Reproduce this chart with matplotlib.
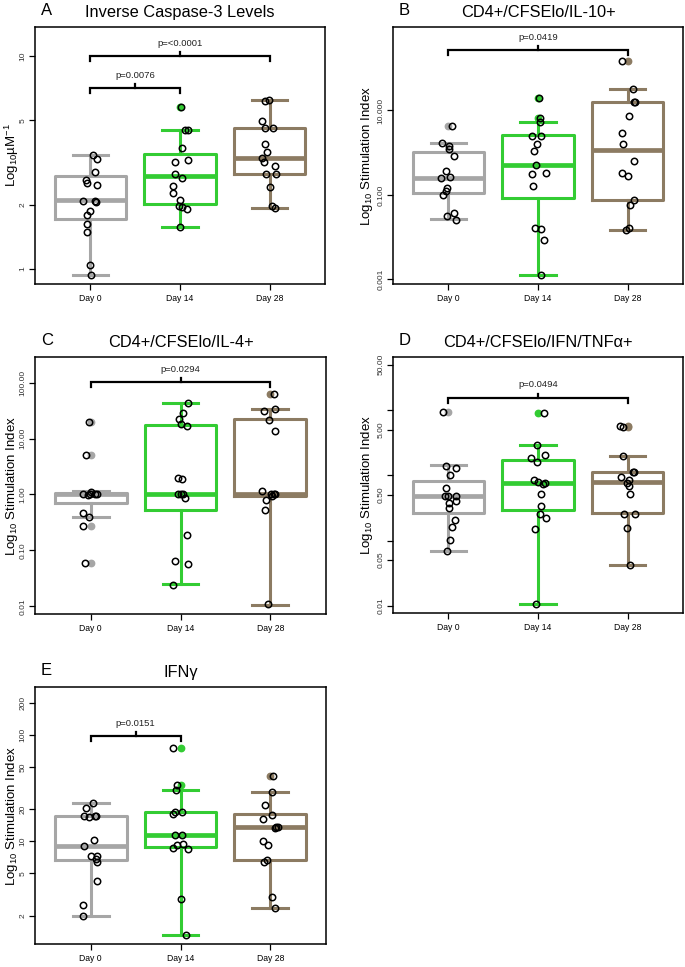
import numpy as np
import matplotlib
matplotlib.use('Agg')
import matplotlib.pyplot as plt

plt.rcParams['font.family'] = ['Liberation Sans', 'DejaVu Sans']
plt.rcParams['mathtext.fontset'] = 'custom'
plt.rcParams['mathtext.rm'] = 'Liberation Sans'

days = ['Day 0', 'Day 14', 'Day 28']
colors = ['#A6A6A6', '#33CC33', '#8C7B62']

# ---- A: inverse caspase-3 ----
A_points = [[3.42, 3.29, 2.85, 2.61, 2.54, 2.48, 2.09, 2.07, 2.09, 1.87, 1.80, 1.62, 1.49, 1.04, 0.94],
            [5.76, 4.49, 4.51, 3.69, 3.25, 3.19, 2.78, 2.68, 2.45, 2.27, 2.10, 1.98, 1.91, 1.95, 1.58],
            [6.19, 6.15, 4.97, 4.58, 4.60, 3.88, 3.55, 3.32, 3.04, 3.17, 2.80, 2.78, 2.43, 1.93, 1.97]]
# whislo, q1, med, q3, whishi
A_stats = [[0.94, 1.72, 2.11, 2.73, 3.43],
           [1.58, 2.03, 2.74, 3.48, 4.51],
           [1.93, 2.79, 3.32, 4.61, 6.22]]
A_fliers = [[], [5.76], []]

# ---- B: IL-10 ----
B_points = [[4.18, 1.74, 1.40, 1.19, 0.84, 0.37, 0.272, 0.248, 0.144, 0.124, 0.100, 0.038, 0.0318, 0.0255],
            [19.3, 6.6, 5.28, 2.51, 2.51, 1.62, 1.12, 0.50, 0.315, 0.33, 0.163, 0.0153, 0.0165, 0.0086, 0.00127],
            [145, 32.7, 15.5, 15.5, 7.35, 2.85, 1.59, 0.652, 0.277, 0.333, 0.0775, 0.059, 0.0165, 0.0148]]
B_stats = [[0.0265, 0.113, 0.248, 1.01, 1.74],
           [0.00127, 0.0865, 0.497, 2.60, 5.28],
           [0.0148, 0.076, 1.15, 15.8, 32.7]]
B_fliers = [[4.18], [19.3, 6.6], [145]]

# ---- C: IL-4 ----
C_points = [[20.1, 5.0, 1.0, 1.0, 1.02, 1.13, 0.98, 1.0, 0.458, 0.394, 0.268, 0.0586],
            [42.8, 28.7, 22.5, 18.3, 16.6, 2.01, 1.93, 1.0, 1.0, 1.0, 0.85, 0.19, 0.0645, 0.057, 0.0244],
            [63.6, 33.9, 31.6, 21.8, 13.9, 1.16, 0.93, 1.0, 1.0, 1.0, 0.81, 0.53, 0.0109]]
C_stats = [[0.394, 0.71, 1.0, 1.07, 1.16],
           [0.0247, 0.525, 1.01, 17.8, 42.8],
           [0.0107, 0.93, 1.0, 22.8, 33.9]]
C_fliers = [[20.1, 5.04, 0.272, 0.0586], [], [63.6]]

# ---- D: IFN/TNFa ----
D_points = [[9.3, 1.41, 1.31, 1.0, 0.647, 0.49, 0.489, 0.477, 0.405, 0.377, 0.313, 0.205, 0.16, 0.102, 0.068],
            [9.2, 2.95, 2.02, 1.84, 1.62, 0.79, 0.76, 0.84, 0.73, 0.518, 0.336, 0.253, 0.225, 0.151, 0.0106],
            [5.6, 5.8, 1.95, 1.11, 1.11, 0.95, 0.84, 0.755, 0.687, 0.51, 0.256, 0.256, 0.156, 0.042]]
D_stats = [[0.0687, 0.268, 0.489, 0.828, 1.42],
           [0.0106, 0.295, 0.772, 1.74, 2.95],
           [0.042, 0.262, 0.80, 1.11, 1.95]]
D_fliers = [[9.3], [9.2], [5.6, 5.8]]

# ---- E: IFNg ----
E_points = [[22.9, 20.7, 17.3, 17.0, 17.4, 17.2, 10.3, 9.04, 7.23, 6.77, 6.44, 7.28, 4.27, 2.50, 2.0],
            [76.6, 34.3, 30.8, 18.9, 18.9, 18.2, 11.6, 11.6, 9.5, 8.6, 9.25, 8.47, 2.87, 1.32],
            [41.5, 29.3, 22.1, 17.6, 16.3, 13.3, 13.7, 13.7, 10.0, 9.24, 6.73, 6.4, 2.97, 2.36]]
E_stats = [[2.0, 6.67, 9.04, 17.4, 22.9],
           [1.32, 8.91, 11.6, 19.0, 30.8],
           [2.38, 6.67, 13.7, 18.1, 29.3]]
E_fliers = [[], [76.6, 34.3], [41.5]]

panels = [
    dict(letter='A', title='Inverse Caspase-3 Levels', ylabel=r'Log$_{10}$µM$^{-1}$',
         pts=A_points, stats=A_stats, fliers=A_fliers, ylim=(0.85, 13.7),
         ticks=[1, 2, 5, 10], labels=['1', '2', '5', '10'],
         brackets=[(0, 2, 10.0, 'p=<0.0001'), (0, 1, 7.07, 'p=0.0076')],
         pos=[35, 27, 290, 257], lab=23),
    dict(letter='B', title='CD4+/CFSElo/IL-10+', ylabel=r'Log$_{10}$ Stimulation Index',
         pts=B_points, stats=B_stats, fliers=B_fliers, ylim=(0.000776, 946),
         ticks=[0.001, 0.1, 10], labels=['0.001', '0.100', '10.000'],
         brackets=[(0, 2, 265, 'p=0.0419')],
         pos=[393, 27, 290, 257], lab=26),
    dict(letter='C', title='CD4+/CFSElo/IL-4+', ylabel=r'Log$_{10}$ Stimulation Index',
         pts=C_points, stats=C_stats, fliers=C_fliers, ylim=(0.0073, 287),
         ticks=[0.01, 0.1, 1, 10, 100], labels=['0.01', '0.10', '1.00', '10.00', '100.00'],
         brackets=[(0, 2, 103, 'p=0.0294')],
         pos=[35, 357, 291, 257], lab=23),
    dict(letter='D', title='CD4+/CFSElo/IFN/TNFα+', ylabel=r'Log$_{10}$ Stimulation Index',
         pts=D_points, stats=D_stats, fliers=D_fliers, ylim=(0.00773, 65.5),
         ticks=[0.01, 0.05, 0.1, 0.5, 1, 5, 10, 50],
         labels=['0.01', '0.05', '', '0.50', '', '5.00', '', '50.00'],
         brackets=[(0, 2, 15.6, 'p=0.0494')],
         pos=[393, 357, 290, 256], lab=26),
    dict(letter='E', title='IFNγ', ylabel=r'Log$_{10}$ Stimulation Index',
         pts=E_points, stats=E_stats, fliers=E_fliers, ylim=(1.08, 285),
         ticks=[2, 5, 10, 20, 50, 100, 200], labels=['2', '5', '10', '20', '50', '100', '200'],
         brackets=[(0, 1, 97.8, 'p=0.0151')],
         pos=[35, 687, 291, 257], lab=23),
]

W, H = 685, 967
fig = plt.figure(figsize=(W / 100, H / 100), dpi=100)
rng = np.random.default_rng(7)

for p in panels:
    l, t, w, h = p['pos']
    ax = fig.add_axes([l / W, 1 - (t + h) / H, w / W, h / H])
    ax.set_yscale('log')

    for i in range(3):
        lo, q1, med, q3, hi = p['stats'][i]
        st = [dict(whislo=lo, q1=q1, med=med, q3=q3, whishi=hi, fliers=p['fliers'][i])]
        c = colors[i]
        ax.bxp(st, positions=[i + 1], widths=0.8, capwidths=0.4, patch_artist=False,
               boxprops=dict(color=c, lw=2.2),
               medianprops=dict(color=c, lw=3.4, solid_capstyle='butt'),
               whiskerprops=dict(color=c, lw=2.2),
               capprops=dict(color=c, lw=2.2),
               flierprops=dict(marker='o', markerfacecolor=c, markeredgecolor=c, markersize=4.6),
               zorder=2)
        y = np.array(p['pts'][i])
        x = i + 1 + rng.uniform(-0.09, 0.09, len(y))
        ax.plot(x, y, 'o', ms=4.6, mfc='none', mec='black', mew=1.1, zorder=3)

    ax.set_xlim(0.38, 3.62)
    ax.set_ylim(*p['ylim'])
    ax.set_xticks([1, 2, 3])
    ax.set_xticklabels(days, fontsize=6.2)
    ax.minorticks_off()
    ax.set_yticks(p['ticks'])
    ax.set_yticklabels(p['labels'], rotation=90, va='center', fontsize=6, color='#333333')
    ax.tick_params(axis='x', length=4, width=0.9, pad=3)
    ax.tick_params(axis='y', length=4, width=0.9, pad=2)
    for s in ax.spines.values():
        s.set_linewidth(1.1)
    ax.set_ylabel(p['ylabel'], fontsize=9.5, va='center')
    ax.yaxis.set_label_coords(-p['lab'] / w, 0.5)
    ax.set_title(p['title'], fontsize=11.8, pad=7)
    ax.text(0.02, 1 + 12 / h, p['letter'], transform=ax.transAxes, fontsize=12, va='baseline')

    # significance brackets (log axis: offset by pixel fraction of a decade)
    ymin, ymax = p['ylim']
    dec = np.log10(ymax / ymin)
    leg = 10 ** (-5 * dec / h)
    tip = 10 ** (4 * dec / h)
    for a, b, yb, txt in p['brackets']:
        xa, xb = a + 1, b + 1
        ax.plot([xa, xa, xb, xb], [yb * leg, yb, yb, yb * leg], color='black', lw=1.6, zorder=4,
                solid_joinstyle='miter')
        xm = (xa + xb) / 2
        ax.plot([xm, xm], [yb, yb * tip], color='black', lw=1.6, zorder=4)
        ax.annotate(txt, (xm, yb), xytext=(0, 6), textcoords='offset points',
                    ha='center', va='bottom', fontsize=6.8, color='#222222')

fig.savefig('out.png', dpi=100)
